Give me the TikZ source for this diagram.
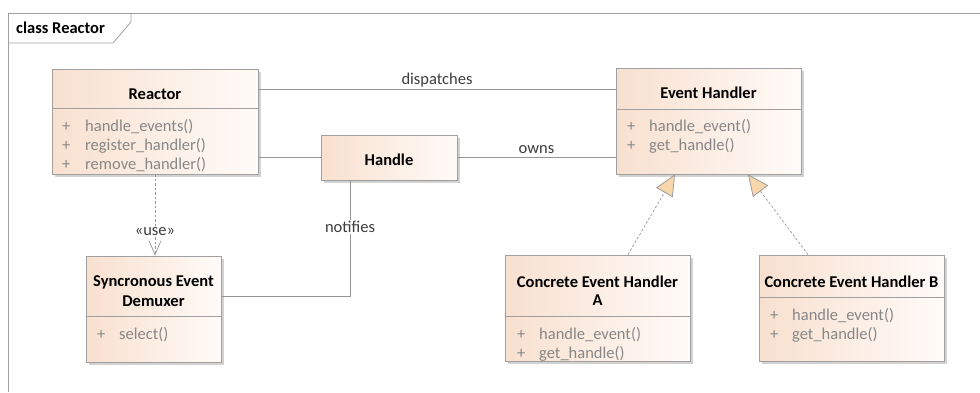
\documentclass[tikz,border=0pt]{standalone}
\usepackage{fontspec}
\setmainfont{Carlito}
\usetikzlibrary{arrows.meta,shadows}

\definecolor{boxpeach}{RGB}{248,224,207}
\definecolor{boxlight}{RGB}{255,251,248}
\definecolor{boxedge}{RGB}{160,160,160}
\definecolor{opgray}{RGB}{135,135,135}
\definecolor{linegray}{RGB}{150,150,150}
\definecolor{txtgray}{RGB}{60,60,60}
\definecolor{gentan}{RGB}{246,214,170}

\tikzset{
  classbox/.style={draw=boxedge, line width=0.8pt, left color=boxpeach, right color=boxlight,
    drop shadow={shadow xshift=3pt, shadow yshift=-3pt, fill=black!35, opacity=0.5}, inner sep=0pt},
  divline/.style={draw=boxedge, line width=0.8pt},
  title/.style={font=\fontsize{16.5}{19}\selectfont\bfseries, anchor=base, inner sep=0pt},
  op/.style={font=\fontsize{16.5}{19}\selectfont, text=opgray, anchor=base west, inner sep=0pt},
  assoc/.style={draw=linegray, line width=0.8pt},
  lbl/.style={font=\fontsize{16.5}{19}\selectfont, text=txtgray},
  usedep/.style={draw=linegray, line width=0.7pt, dash pattern=on 2.5pt off 2pt, -{Straight Barb[length=14pt,width=12pt]}},
  realize/.style={draw=linegray, line width=0.7pt, dash pattern=on 2.5pt off 2pt, -{Triangle[length=21pt,width=19pt,fill=gentan]}},
  frame/.style={draw=boxedge, line width=0.8pt}
}

\begin{document}
\begin{tikzpicture}[x=1pt, y=-1pt]
        \useasboundingbox[fill=white] (0,0) rectangle (980,392);

        % Frame
        \draw[frame] (8,392) -- (8,13) -- (980,13);
        \draw[frame] (8,43) -- (113,43) -- (131,22) -- (131,13);
        \node[title, anchor=base west] (frame-t) at (16,33) {class Reactor};

        % Reactor
        \node[classbox, minimum width=206, minimum height=105] (reactor) at (155,121.5) {};
        \draw[divline] (52,108) -- (258,108);
        \node[title] (reactor-t) at (155,99) {Reactor};
        \node[op] (reactor-p1) at (62,131) {+};
        \node[op] (reactor-m1) at (85,131) {handle\_events()};
        \node[op] (reactor-p2) at (62,150) {+};
        \node[op] (reactor-m2) at (85,150) {register\_handler()};
        \node[op] (reactor-p3) at (62,169) {+};
        \node[op] (reactor-m3) at (85,169) {remove\_handler()};

        % Handle
        \node[classbox, minimum width=136, minimum height=45] (handle) at (389,157.5) {};
        \node[title] (handle-t) at (389,165) {Handle};

        % Event Handler
        \node[classbox, minimum width=185, minimum height=106] (evh) at (708.5,121) {};
        \draw[divline] (616,109) -- (801,109);
        \node[title] (evh-t) at (708.5,98) {Event Handler};
        \node[op] (evh-p1) at (627,131) {+};
        \node[op] (evh-m1) at (649,131) {handle\_event()};
        \node[op] (evh-p2) at (627,150) {+};
        \node[op] (evh-m2) at (649,150) {get\_handle()};

        % Syncronous Event Demuxer
        \node[classbox, minimum width=135, minimum height=106] (demux) at (153.5,309) {};
        \draw[divline] (86,316) -- (221,316);
        \node[title] (demux-t1) at (153.5,286) {Syncronous Event};
        \node[title] (demux-t2) at (153.5,306) {Demuxer};
        \node[op] (demux-p1) at (97,339) {+};
        \node[op] (demux-m1) at (119,339) {select()};

        % Concrete Event Handler A
        \node[classbox, minimum width=185, minimum height=106] (concA) at (597.5,308) {};
        \draw[divline] (505,316) -- (690,316);
        \node[title] (concA-t1) at (597.5,287) {Concrete Event Handler};
        \node[title] (concA-t2) at (597.5,305) {A};
        \node[op] (concA-p1) at (517,339) {+};
        \node[op] (concA-m1) at (539,339) {handle\_event()};
        \node[op] (concA-p2) at (517,358) {+};
        \node[op] (concA-m2) at (539,358) {get\_handle()};

        % Concrete Event Handler B
        \node[classbox, minimum width=185, minimum height=106] (concB) at (851.5,308) {};
        \draw[divline] (759,297) -- (944,297);
        \node[title] (concB-t) at (851.5,287) {Concrete Event Handler B};
        \node[op] (concB-p1) at (770,320) {+};
        \node[op] (concB-m1) at (792,320) {handle\_event()};
        \node[op] (concB-p2) at (770,339) {+};
        \node[op] (concB-m2) at (792,339) {get\_handle()};

        % Connectors
        \draw[assoc] ([yshift=32.5pt]reactor.east) -- ([yshift=32.5pt]reactor.east -| evh.west)
            node[lbl, midway, anchor=base, yshift=5pt] {dispatches};
        \draw[assoc] (reactor.east |- handle.west) -- (handle.west);
        \draw[assoc] (handle.east) -- (handle.east -| evh.west)
            node[lbl, midway, anchor=base, yshift=4.5pt] {owns};
        \draw[assoc] ([xshift=-39pt]handle.south) |- ([yshift=12.5pt]demux.east)
            node[lbl, pos=0.2, fill=white, inner sep=1pt] {notifies};
        \draw[usedep] (reactor.south) -- (reactor.south |- demux.north)
            node[lbl, pos=0.7, fill=white, inner sep=1pt] {«use»};
        \draw[realize] ([xshift=30.5pt]concA.north) -- ([xshift=-33.5pt]evh.south);
        \draw[realize] ([xshift=-43.5pt]concB.north) -- ([xshift=39.5pt]evh.south);
    \end{tikzpicture}
\end{document}
